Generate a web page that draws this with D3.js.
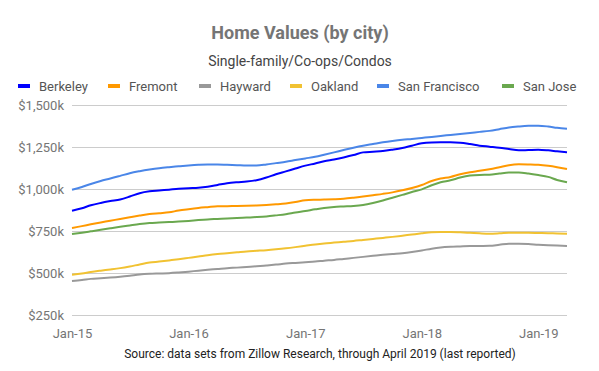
<!DOCTYPE html>
<html>
<head>
<meta charset="utf-8">
<script src="https://cdn.jsdelivr.net/npm/d3@7"></script>
<style>
  body { margin: 0; background: #fff; }
  text { font-family: Roboto, "Noto Sans", sans-serif; }
</style>
</head>
<body>
<div id="chart"></div>
<script>
// monthly, Jan-2015 .. Apr-2019 (values in $k)
const startMonth = "2015-01"
const endMonth = "2019-04"

const cities = ["Berkeley", "Fremont", "Hayward", "Oakland", "San Francisco", "San Jose"]

const berkeley = [871, 885, 903, 917, 928, 938, 955, 975, 986, 991, 996, 1001, 1005, 1008, 1014, 1024, 1034, 1040, 1044, 1052, 1068, 1088, 1105, 1122, 1139, 1152, 1165, 1176, 1188, 1202, 1218, 1222, 1226, 1234, 1244, 1258, 1272, 1277, 1278, 1278, 1276, 1268, 1258, 1252, 1246, 1238, 1230, 1232, 1234, 1230, 1224, 1218]
const fremont = [768, 779, 790, 801, 811, 822, 832, 842, 851, 856, 861, 872, 880, 887, 892, 897, 898, 899, 900, 902, 905, 909, 914, 922, 933, 936, 937, 939, 942, 948, 955, 963, 971, 980, 992, 1006, 1024, 1048, 1062, 1072, 1088, 1100, 1108, 1118, 1130, 1142, 1147, 1146, 1144, 1138, 1130, 1119]
const hayward = [452, 458, 465, 469, 473, 478, 484, 491, 495, 497, 499, 503, 508, 514, 519, 524, 529, 532, 536, 540, 545, 550, 556, 560, 564, 568, 573, 578, 584, 590, 596, 602, 608, 613, 618, 625, 634, 645, 652, 656, 658, 660, 661, 662, 668, 674, 674, 672, 668, 665, 663, 661]
const oakland = [490, 497, 506, 514, 521, 529, 539, 551, 562, 568, 575, 582, 590, 598, 606, 613, 618, 623, 628, 632, 636, 641, 647, 654, 662, 670, 676, 681, 686, 691, 697, 703, 709, 715, 722, 729, 736, 742, 744, 744, 742, 739, 736, 734, 736, 739, 740, 739, 738, 737, 735, 734]
const sanFrancisco = [996, 1012, 1030, 1048, 1062, 1078, 1094, 1106, 1116, 1124, 1130, 1135, 1140, 1144, 1146, 1146, 1144, 1142, 1140, 1140, 1146, 1154, 1162, 1172, 1182, 1192, 1204, 1218, 1232, 1246, 1258, 1268, 1278, 1286, 1293, 1298, 1304, 1310, 1316, 1322, 1328, 1334, 1340, 1346, 1356, 1366, 1372, 1376, 1377, 1372, 1364, 1358]
const sanJose = [732, 740, 748, 757, 766, 775, 783, 791, 797, 800, 803, 806, 810, 815, 819, 822, 825, 827, 830, 833, 837, 843, 850, 860, 869, 879, 887, 893, 896, 899, 905, 917, 932, 948, 965, 982, 998, 1022, 1040, 1052, 1068, 1080, 1084, 1085, 1092, 1098, 1098, 1092, 1083, 1072, 1054, 1040]

const yTicks = [250, 500, 750, 1000, 1250, 1500]
const xTickYears = [2015, 2016, 2017, 2018, 2019]

async function drawLineChart() {
  const parseMonth = d3.timeParse("%Y-%m")
  const months = d3.timeMonth.range(parseMonth(startMonth), d3.timeMonth.offset(parseMonth(endMonth), 1))

  const seriesValues = [berkeley, fremont, hayward, oakland, sanFrancisco, sanJose]
  const colors = ["#0000ff", "#ff9900", "#999999", "#f1c232", "#4a86e8", "#6aa84f"]

  const dataset = cities.map((name, i) => ({
    name,
    color: colors[i],
    values: seriesValues[i].map((v, j) => ({ date: months[j], value: v }))
  }))

  const xAccessor = d => d.date
  const yAccessor = d => d.value

  const dimensions = {
    width: 599,
    height: 371,
    margin: { top: 105, right: 32, bottom: 56, left: 72 }
  }
  dimensions.boundedWidth = dimensions.width - dimensions.margin.left - dimensions.margin.right
  dimensions.boundedHeight = dimensions.height - dimensions.margin.top - dimensions.margin.bottom

  const wrapper = d3.select("#chart")
    .append("svg")
      .attr("width", dimensions.width)
      .attr("height", dimensions.height)

  // titles
  wrapper.append("text")
      .attr("x", 300)
      .attr("y", 39)
      .attr("text-anchor", "middle")
      .attr("font-size", 18)
      .attr("font-weight", "bold")
      .attr("fill", "#757575")
      .text("Home Values (by city)")

  wrapper.append("text")
      .attr("x", 300)
      .attr("y", 66)
      .attr("text-anchor", "middle")
      .attr("font-size", 14)
      .attr("fill", "#444")
      .text("Single-family/Co-ops/Condos")

  // legend
  const legendX = [18, 108, 199, 290, 377, 502]
  const legend = wrapper.append("g")
  dataset.forEach((s, i) => {
    const item = legend.append("g").attr("transform", `translate(${legendX[i]}, 86)`)
    item.append("rect")
      .attr("x", 0).attr("y", -2)
      .attr("width", 12).attr("height", 4)
      .attr("fill", s.color)
    item.append("text")
      .attr("x", 21).attr("y", 5)
      .attr("font-size", 13)
      .attr("fill", "#555")
      .text(s.name)
  })

  const bounds = wrapper.append("g")
      .attr("transform", `translate(${dimensions.margin.left}, ${dimensions.margin.top})`)

  const xScale = d3.scaleTime()
      .domain(d3.extent(months))
      .range([0, dimensions.boundedWidth])

  const yScale = d3.scaleLinear()
      .domain([250, 1500])
      .range([dimensions.boundedHeight, 0])

  // gridlines + y labels
  const yAxis = d3.axisLeft(yScale)
      .tickValues(yTicks)
      .tickSize(-dimensions.boundedWidth)
      .tickPadding(8)
      .tickFormat(d => "$" + d3.format(",")(d) + "k")

  bounds.append("g").call(yAxis)
      .call(g => g.select(".domain").remove())
      .call(g => g.selectAll("line").attr("stroke", "#cccccc"))
      .call(g => g.selectAll("text")
        .attr("font-size", 13)
        .attr("font-family", "Roboto, sans-serif")
        .attr("fill", "#757575"))

  const xAxis = d3.axisBottom(xScale)
      .tickValues(xTickYears.map(y => new Date(y, 0, 1)))
      .tickSize(0)
      .tickPadding(14)
      .tickFormat(d3.timeFormat("Jan-%y"))

  bounds.append("g").call(xAxis)
      .attr("transform", `translate(0, ${dimensions.boundedHeight})`)
      .call(g => g.select(".domain").remove())
      .call(g => g.selectAll("text")
        .attr("font-size", 13)
        .attr("font-family", "Roboto, sans-serif")
        .attr("fill", "#757575"))

  // lines
  const lineGenerator = d3.line()
      .x(d => xScale(xAccessor(d)))
      .y(d => yScale(yAccessor(d)))
      .curve(d3.curveMonotoneX)

  bounds.selectAll(".series")
    .data(dataset)
    .join("path")
      .attr("class", "series")
      .attr("d", d => lineGenerator(d.values))
      .attr("fill", "none")
      .attr("stroke", d => d.color)
      .attr("stroke-width", 2)
      .attr("stroke-linejoin", "round")

  // source note
  wrapper.append("text")
      .attr("x", 320)
      .attr("y", 358)
      .attr("text-anchor", "middle")
      .attr("font-size", 12)
      .attr("fill", "#222")
      .text("Source: data sets from Zillow Research, through April 2019 (last reported)")
}

drawLineChart()
</script>
</body>
</html>
